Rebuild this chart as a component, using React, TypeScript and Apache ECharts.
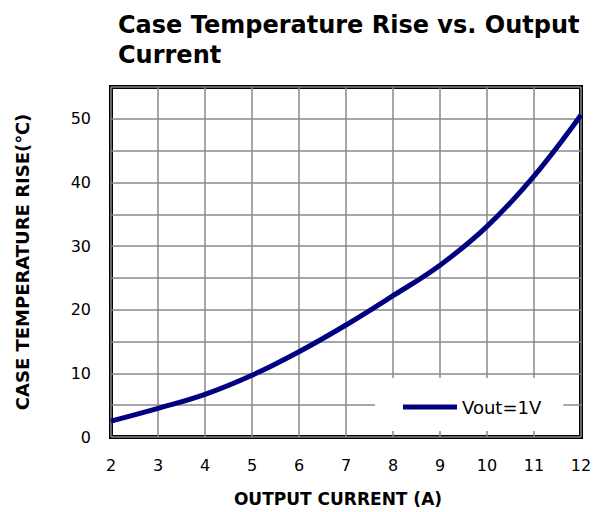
import React, { useEffect, useRef } from "react";
import * as echarts from "echarts";

const currents = [2, 3, 4, 5, 6, 7, 8, 9, 10, 11, 12];
const tempRise = [2.5, 4.5, 6.7, 9.7, 13.4, 17.6, 22.2, 27.0, 33.1, 41.0, 50.6];
const seriesName = "Vout=1V";
const titleText = "Case Temperature Rise vs. Output\nCurrent";
const xName = "OUTPUT CURRENT (A)";
const yName = "CASE TEMPERATURE RISE(℃)";

const FONT = "DejaVu Sans";

export default function App() {
  const ref = useRef<HTMLDivElement>(null);
  useEffect(() => {
    document.body.style.margin = "0";
    if (!ref.current) return;
    const chart = echarts.init(ref.current, null, { renderer: "svg" });
    chart.setOption({
      animation: false,
      backgroundColor: "#fff",
      title: {
        text: titleText,
        left: 110,
        top: 10,
        padding: [0, 0, 0, 8],
        textStyle: {
          fontFamily: FONT,
          fontWeight: "bold",
          fontSize: 24,
          lineHeight: 30,
          color: "#000",
        },
      },
      grid: {
        left: 111,
        right: 14,
        top: 87,
        bottom: 75,
        show: true,
        borderColor: "#000",
        borderWidth: 4,
        backgroundColor: "transparent",
      },
      xAxis: {
        type: "value",
        min: 2,
        max: 12,
        interval: 1,
        name: xName,
        nameLocation: "middle",
        nameGap: 53,
        nameTextStyle: {
          fontFamily: FONT,
          fontWeight: "bold",
          fontSize: 17,
          color: "#000",
          padding: [0, 16, 0, 0],
        },
        axisLine: { show: false },
        axisTick: { show: false },
        axisLabel: {
          fontFamily: FONT,
          fontSize: 16,
          color: "#000",
          margin: 20,
        },
        splitLine: { show: true, lineStyle: { color: "#888", width: 1.5 } },
      },
      yAxis: {
        type: "value",
        min: 0,
        max: 55,
        interval: 5,
        name: yName,
        nameLocation: "middle",
        nameGap: 80,
        nameTextStyle: {
          fontFamily: FONT,
          fontWeight: "bold",
          fontSize: 18,
          color: "#000",
        },
        axisLine: { show: false },
        axisTick: { show: false },
        axisLabel: {
          fontFamily: FONT,
          fontSize: 16,
          color: "#000",
          margin: 20,
          formatter: (v: number) => (v % 10 === 0 ? String(v) : ""),
        },
        splitLine: { show: true, lineStyle: { color: "#888", width: 1.5 } },
      },
      legend: {
        left: 375,
        top: 378,
        padding: [19, 22, 14, 28],
        backgroundColor: "#fff",
        icon: "rect",
        itemWidth: 54,
        itemHeight: 5,
        textStyle: {
          fontFamily: FONT,
          fontSize: 18,
          lineHeight: 20,
          color: "#000",
        },
        data: [seriesName],
      },
      series: [
        {
          name: seriesName,
          type: "line",
          smooth: 0.4,
          showSymbol: false,
          data: currents.map((c, i) => [c, tempRise[i]]),
          lineStyle: { color: "#000080", width: 5 },
          itemStyle: { color: "#000080" },
        },
      ],
    });
    return () => chart.dispose();
  }, []);
  return <div ref={ref} style={{ width: 595, height: 512 }} />;
}
